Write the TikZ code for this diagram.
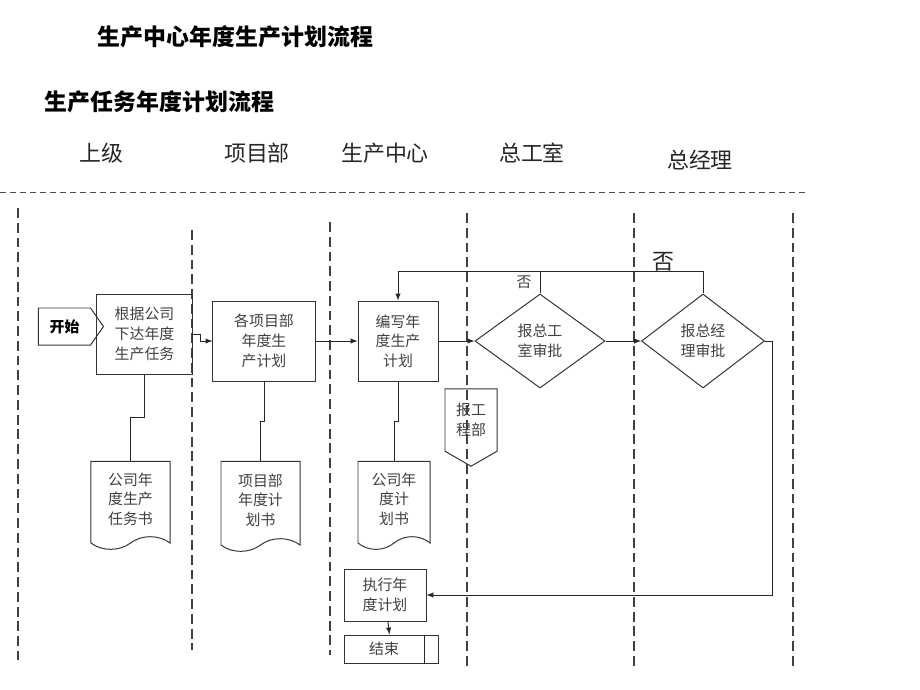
\documentclass[tikz,border=0pt]{standalone}
\usepackage{fontspec}
\setmainfont{Noto Sans CJK SC}
\usepackage{tikz}
\usetikzlibrary {
  shapes.geometric,
  shapes.symbols,
  positioning,
  arrows,
}
\definecolor{ink}{HTML}{404040}
\tikzset{
  lane/.style = {
    dash pattern = on 7pt off 3.5pt,
    line width = 1pt,
    black!75
  },
  rule/.style = {
    dash pattern = on 4.3pt off 2.8pt,
    line width = .6pt,
    black!70
  },
  lanename/.style = {
    font = \fontsize{15.6}{18}\selectfont,
    text = black!85,
    inner sep = 0
  },
  task/.style = {
    rectangle,
    draw = black!80,
    line width = .7pt,
    align = center,
    text = ink,
    inner sep = 0,
    font = \fontsize{10.6}{14}\selectfont
  },
  check/.style = {
    task,
    diamond
  },
  paper/.style = {
    task,
    tape,
    tape bend top = none,
    tape bend bottom = in and out,
    tape bend height = 9pt
  },
  flag/.style = {
    task,
    signal,
    signal to = #1
  },
  flow/.style = {
    -latex,
    line width = .7pt,
    black!85
  },
  wire/.style = {
    line width = .7pt,
    black!85
  },
}
\newcommand{\stopbar}[1]{
  \draw[wire] ([xshift=-.35cm]#1.north east) -- ([xshift=-.35cm]#1.south east);
}

\begin{document}
\begin{tikzpicture}[x = .025cm, y = -.025cm]
  \useasboundingbox (0,0) rectangle (920,690);
  % titles
  \node[anchor = west, font = \fontsize{16.3}{18}\selectfont\bfseries] (title) at (93,37) {生产中心年度生产计划流程};
  \node[anchor = west, font = \fontsize{16.3}{18}\selectfont\bfseries] (subtitle) at (40,102) {生产任务年度计划流程};
  % lanes
  \node[lanename] (h1) at (101,153) {上级};
  \node[lanename] (h2) at (257,153) {项目部};
  \node[lanename] (h3) at (385,153) {生产中心};
  \node[lanename] (h4) at (532,153) {总工室};
  \node[lanename] (h5) at (700,160) {总经理};
  \draw[rule] (0,192) -- (808,192);
  \draw[lane] (18,208) -- (18,660);
  \draw[lane] (192,230) -- (192,650);
  \draw[lane] (330,222) -- (330,655);
  \draw[lane] (467,213) -- (467,668);
  \draw[lane] (634,213) -- (634,670);
  \draw[lane] (793,213) -- (793,670);
  % steps
  \node[flag = east, signal pointer angle = 110, minimum width = 1.625cm,
    minimum height = .925cm, font = \fontsize{10.6}{14}\selectfont\bfseries,
    text = black] (start) at (64.5,326.5) {开始};
  \node[task, minimum width = 2.375cm, minimum height = 2cm] (issue) at (144.5,334)
    {根据公司\\下达年度\\生产任务};
  \node[task, minimum width = 2.55cm, minimum height = 2cm] (projplan) at (264,341)
    {各项目部\\年度生\\产计划};
  \node[task, minimum width = 2cm, minimum height = 2cm] (write) at (398,341)
    {编写年\\度生产\\计划};
  \node[check, minimum width = 3.25cm, minimum height = 2.35cm] (chief) at (540,341)
    {报总工\\室审批};
  \node[check, minimum width = 3.075cm, minimum height = 2.35cm] (boss) at (703,341)
    {报总经\\理审批};
  \node[flag = south, signal pointer angle = 120, minimum width = 1.3cm,
    minimum height = 1.775cm] (eng) at (471,420) {报工\\程部};
  \node[task, minimum width = 2.05cm, minimum height = 1.3cm] (run) at (385,595)
    {执行年\\度计划};
  \node[task, minimum width = 2.35cm, minimum height = .7cm] (stop) at (391,649)
    {结束\hspace{.35cm}};
  \stopbar{stop}
  % documents
  \node[paper, minimum width = 1.975cm, minimum height = 2.2cm] (doc1) at (130.5,499)
    {公司年\\度生产\\任务书};
  \node[paper, minimum width = 1.975cm, minimum height = 2.25cm] (doc2) at (260.5,500)
    {项目部\\年度计\\划书};
  \node[paper, minimum width = 1.8cm, minimum height = 2.2cm] (doc3) at (394,499)
    {公司年\\度计\\划书};
  % connectors
  \coordinate (back) at (0,271);
  \coordinate (side) at (772,0);
  \draw[flow] (issue.east) -- ++(8,0) |- (projplan.west);
  \draw[flow] (projplan) -- (write);
  \draw[flow] (write) -- (chief);
  \draw[flow] (chief) -- (boss);
  \draw[flow] (chief.north) -- (chief.north |- back) -| (write.north);
  \draw[wire] (boss.north) -- (boss.north |- back) -- (chief.north |- back);
  \draw[flow] (boss.east) -- (boss.east -| side) |- (run.east);
  \draw[flow] (run) -- (stop);
  \draw[wire] (issue.south) -- ++(0,43) -| (doc1.north);
  \draw[wire] (projplan.south) -- ++(0,40) -| (doc2.north);
  \draw[wire] (write.south) -- ++(0,40) -| (doc3.north);
  % labels
  \node[text = ink, font = \fontsize{10.6}{12}\selectfont] (no1) at (524,282) {否};
  \node[text = black!85, font = \fontsize{15.6}{18}\selectfont] (no2) at (663,262) {否};
\end{tikzpicture}
\end{document}
